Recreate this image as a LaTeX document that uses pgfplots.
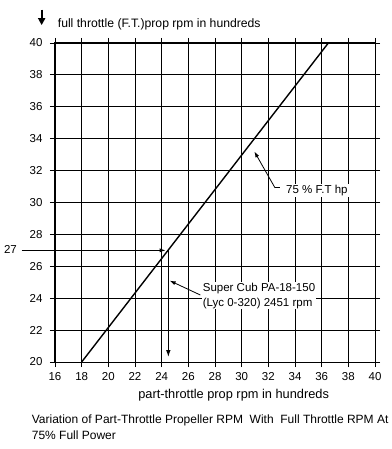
\documentclass[border=0pt]{standalone}
\usepackage{pgfplots}
\pgfplotsset{compat=1.18}
\usepackage{fontspec}
\setmainfont{Liberation Sans}
\usetikzlibrary{arrows.meta}
\begin{document}
\begin{tikzpicture}
\begin{axis}[
  scale only axis, width=320pt, height=319pt,
  xmin=16, xmax=40, ymin=20, ymax=40,
  xtick={16,18,...,40}, ytick={20,22,...,40},
  grid=major,
  major grid style={black, line width=0.8pt},
  axis line style={black, line width=1pt},
  tick align=outside, major tick length=5pt,
  tick style={black, line width=0.8pt},
  ticklabel style={font=\fontsize{11.5}{13}\selectfont},
  /pgf/number format/assume math mode=true,
  xticklabel style={yshift=-2pt},
  yticklabel style={xshift=-4pt},
  clip=false,
]
\addplot[black, line width=1.4pt] coordinates {(18,20) (36.5,40)};
% 27 construction
\addplot[black, line width=0.8pt, -{Latex[length=6pt,width=4pt]}] coordinates {(13.5,27) (24.3,27)};
\addplot[black, line width=1.2pt, -{Latex[length=7pt,width=4.5pt]}] coordinates {(24.5,27) (24.5,20.3)};
% leaders
\addplot[black, line width=0.8pt, -{Latex[length=6pt,width=4pt]}] coordinates {(32.5,30.92) (30.95,33.2)};
\addplot[black, line width=0.8pt] coordinates {(32.5,30.92) (32.85,30.92)};
\addplot[black, line width=0.8pt, -{Latex[length=6pt,width=4pt]}] coordinates {(26.9,24.2) (24.6,25.1)};
% texts
\node[anchor=west, fill=white, inner sep=1pt, font=\fontsize{11.5}{13}\selectfont] at (axis cs:33.25,30.77) {75 \% F.T hp};
\node[anchor=west, fill=white, inner sep=1pt, align=left, font=\fontsize{11.5}{14.5}\selectfont] at (axis cs:27.0,24.15) {Super Cub PA-18-150\\(Lyc 0-320) 2451 rpm};
\node[anchor=east, font=\fontsize{11.5}{13}\selectfont] at (axis cs:13.4,27.05) {27};
\addplot[black, line width=1.8pt, -{Triangle[length=7pt,width=7pt]}] coordinates {(15.0,42.1) (15.0,41.12)};
\node[anchor=west, font=\fontsize{12.2}{14}\selectfont] at (axis cs:15.95,41.2) {full throttle (F.T.)prop rpm in hundreds};
\node[font=\fontsize{12.8}{14}\selectfont] at (axis cs:29.4,17.95) {part-throttle prop rpm in hundreds};
\node[anchor=west, font=\fontsize{12}{14}\selectfont] at (axis cs:14.0,16.35) {Variation of Part-Throttle Propeller RPM\ \ With\ \ Full Throttle RPM At};
\node[anchor=west, font=\fontsize{12}{14}\selectfont] at (axis cs:14.0,15.42) {75\% Full Power};
\end{axis}
\pgfresetboundingbox
\path[use as bounding box] ([xshift=-55pt,yshift=-87pt]current axis.south west) rectangle ([xshift=16pt,yshift=43pt]current axis.north east);
\end{tikzpicture}
\end{document}
